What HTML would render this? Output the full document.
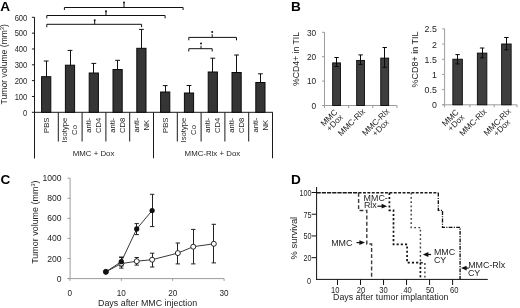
<!DOCTYPE html>
<html><head><meta charset="utf-8"><style>
html,body{margin:0;padding:0;background:#fff;width:520px;height:308px;overflow:hidden}
svg{display:block;will-change:transform;font-family:"Liberation Sans",sans-serif}
</style></head><body>
<svg width="520" height="308" viewBox="0 0 520 308">
<rect width="520" height="308" fill="#fff"/>
<text x="0.20" y="10.50" font-size="13.6" text-anchor="start" fill="#000" font-weight="bold" >A</text>
<line x1="34.50" y1="17.32" x2="34.50" y2="158.30" stroke="#1a1a1a" stroke-width="1" />
<line x1="31.90" y1="112.30" x2="34.50" y2="112.30" stroke="#1a1a1a" stroke-width="1" />
<text transform="translate(27.30,115.50) scale(1.0,1.14)" font-size="7.6" text-anchor="end" fill="#1e1e1e" font-weight="normal">0</text>
<line x1="31.90" y1="96.47" x2="34.50" y2="96.47" stroke="#1a1a1a" stroke-width="1" />
<text transform="translate(27.30,99.67) scale(1.0,1.14)" font-size="7.6" text-anchor="end" fill="#1e1e1e" font-weight="normal">100</text>
<line x1="31.90" y1="80.64" x2="34.50" y2="80.64" stroke="#1a1a1a" stroke-width="1" />
<text transform="translate(27.30,83.84) scale(1.0,1.14)" font-size="7.6" text-anchor="end" fill="#1e1e1e" font-weight="normal">200</text>
<line x1="31.90" y1="64.81" x2="34.50" y2="64.81" stroke="#1a1a1a" stroke-width="1" />
<text transform="translate(27.30,68.01) scale(1.0,1.14)" font-size="7.6" text-anchor="end" fill="#1e1e1e" font-weight="normal">300</text>
<line x1="31.90" y1="48.98" x2="34.50" y2="48.98" stroke="#1a1a1a" stroke-width="1" />
<text transform="translate(27.30,52.18) scale(1.0,1.14)" font-size="7.6" text-anchor="end" fill="#1e1e1e" font-weight="normal">400</text>
<line x1="31.90" y1="33.15" x2="34.50" y2="33.15" stroke="#1a1a1a" stroke-width="1" />
<text transform="translate(27.30,36.35) scale(1.0,1.14)" font-size="7.6" text-anchor="end" fill="#1e1e1e" font-weight="normal">500</text>
<line x1="31.90" y1="17.32" x2="34.50" y2="17.32" stroke="#1a1a1a" stroke-width="1" />
<text transform="translate(27.30,20.52) scale(1.0,1.14)" font-size="7.6" text-anchor="end" fill="#1e1e1e" font-weight="normal">600</text>
<text transform="translate(6.8,64.3) rotate(-90)" font-size="8.65" text-anchor="middle" fill="#1e1e1e">Tumor volume (mm<tspan font-size="5.2" dy="-3">3</tspan><tspan dy="3">)</tspan></text>
<line x1="34.50" y1="112.30" x2="272.80" y2="112.30" stroke="#1a1a1a" stroke-width="1" />
<line x1="34.50" y1="112.30" x2="34.50" y2="158.30" stroke="#1a1a1a" stroke-width="1" />
<line x1="58.30" y1="112.30" x2="58.30" y2="141.50" stroke="#1a1a1a" stroke-width="1" />
<line x1="82.10" y1="112.30" x2="82.10" y2="141.50" stroke="#1a1a1a" stroke-width="1" />
<line x1="105.90" y1="112.30" x2="105.90" y2="141.50" stroke="#1a1a1a" stroke-width="1" />
<line x1="129.70" y1="112.30" x2="129.70" y2="141.50" stroke="#1a1a1a" stroke-width="1" />
<line x1="153.50" y1="112.30" x2="153.50" y2="158.30" stroke="#1a1a1a" stroke-width="1" />
<line x1="177.30" y1="112.30" x2="177.30" y2="141.50" stroke="#1a1a1a" stroke-width="1" />
<line x1="201.10" y1="112.30" x2="201.10" y2="141.50" stroke="#1a1a1a" stroke-width="1" />
<line x1="224.90" y1="112.30" x2="224.90" y2="141.50" stroke="#1a1a1a" stroke-width="1" />
<line x1="248.70" y1="112.30" x2="248.70" y2="141.50" stroke="#1a1a1a" stroke-width="1" />
<line x1="272.50" y1="112.30" x2="272.50" y2="158.30" stroke="#1a1a1a" stroke-width="1" />
<line x1="46.50" y1="61.00" x2="46.50" y2="77.70" stroke="#111" stroke-width="1" />
<line x1="43.80" y1="61.00" x2="48.60" y2="61.00" stroke="#111" stroke-width="1" />
<rect x="41.60" y="76.70" width="9.20" height="35.60" fill="#353535" stroke="#0a0a0a" stroke-width="1.0"/>
<line x1="70.50" y1="50.40" x2="70.50" y2="66.20" stroke="#111" stroke-width="1" />
<line x1="67.60" y1="50.40" x2="72.40" y2="50.40" stroke="#111" stroke-width="1" />
<rect x="65.40" y="65.20" width="9.20" height="47.10" fill="#353535" stroke="#0a0a0a" stroke-width="1.0"/>
<line x1="93.50" y1="63.40" x2="93.50" y2="74.00" stroke="#111" stroke-width="1" />
<line x1="91.40" y1="63.40" x2="96.20" y2="63.40" stroke="#111" stroke-width="1" />
<rect x="89.20" y="73.00" width="9.20" height="39.30" fill="#353535" stroke="#0a0a0a" stroke-width="1.0"/>
<line x1="117.50" y1="60.30" x2="117.50" y2="70.50" stroke="#111" stroke-width="1" />
<line x1="115.20" y1="60.30" x2="120.00" y2="60.30" stroke="#111" stroke-width="1" />
<rect x="113.00" y="69.50" width="9.20" height="42.80" fill="#353535" stroke="#0a0a0a" stroke-width="1.0"/>
<line x1="141.50" y1="29.40" x2="141.50" y2="49.30" stroke="#111" stroke-width="1" />
<line x1="139.00" y1="29.40" x2="143.80" y2="29.40" stroke="#111" stroke-width="1" />
<rect x="136.80" y="48.30" width="9.20" height="64.00" fill="#353535" stroke="#0a0a0a" stroke-width="1.0"/>
<line x1="165.50" y1="85.60" x2="165.50" y2="93.00" stroke="#111" stroke-width="1" />
<line x1="162.80" y1="85.60" x2="167.60" y2="85.60" stroke="#111" stroke-width="1" />
<rect x="160.60" y="92.00" width="9.20" height="20.30" fill="#353535" stroke="#0a0a0a" stroke-width="1.0"/>
<line x1="189.50" y1="85.50" x2="189.50" y2="94.00" stroke="#111" stroke-width="1" />
<line x1="186.60" y1="85.50" x2="191.40" y2="85.50" stroke="#111" stroke-width="1" />
<rect x="184.40" y="93.00" width="9.20" height="19.30" fill="#353535" stroke="#0a0a0a" stroke-width="1.0"/>
<line x1="212.50" y1="58.20" x2="212.50" y2="73.00" stroke="#111" stroke-width="1" />
<line x1="210.40" y1="58.20" x2="215.20" y2="58.20" stroke="#111" stroke-width="1" />
<rect x="208.20" y="72.00" width="9.20" height="40.30" fill="#353535" stroke="#0a0a0a" stroke-width="1.0"/>
<line x1="236.50" y1="55.00" x2="236.50" y2="73.50" stroke="#111" stroke-width="1" />
<line x1="234.20" y1="55.00" x2="239.00" y2="55.00" stroke="#111" stroke-width="1" />
<rect x="232.00" y="72.50" width="9.20" height="39.80" fill="#353535" stroke="#0a0a0a" stroke-width="1.0"/>
<line x1="260.50" y1="73.80" x2="260.50" y2="83.50" stroke="#111" stroke-width="1" />
<line x1="258.00" y1="73.80" x2="262.80" y2="73.80" stroke="#111" stroke-width="1" />
<rect x="255.80" y="82.50" width="9.20" height="29.80" fill="#353535" stroke="#0a0a0a" stroke-width="1.0"/>
<polyline points="64.40,10.00 64.40,7.50 183.10,7.50 183.10,10.00" fill="none" stroke="#111" stroke-width="1" stroke-linecap="butt" />
<polyline points="46.80,18.30 46.80,15.50 165.10,15.50 165.10,18.30" fill="none" stroke="#111" stroke-width="1" stroke-linecap="butt" />
<polyline points="46.80,27.20 46.80,24.30 141.60,24.30 141.60,27.20" fill="none" stroke="#111" stroke-width="1" stroke-linecap="butt" />
<polyline points="188.80,40.30 188.80,37.40 236.50,37.40 236.50,40.30" fill="none" stroke="#111" stroke-width="1" stroke-linecap="butt" />
<polyline points="188.80,51.50 188.80,48.70 212.20,48.70 212.20,51.50" fill="none" stroke="#111" stroke-width="1" stroke-linecap="butt" />
<circle cx="124.00" cy="2.50" r="1.0" fill="#111"/>
<line x1="124.00" y1="3.00" x2="124.00" y2="7.50" stroke="#111" stroke-width="1.0" />
<circle cx="106.00" cy="11.30" r="1.0" fill="#111"/>
<line x1="106.00" y1="11.80" x2="106.00" y2="15.50" stroke="#111" stroke-width="1.0" />
<circle cx="94.70" cy="20.20" r="1.0" fill="#111"/>
<line x1="94.70" y1="20.70" x2="94.70" y2="24.30" stroke="#111" stroke-width="1.0" />
<circle cx="212.20" cy="32.00" r="1.0" fill="#111"/>
<line x1="212.20" y1="34.20" x2="212.20" y2="37.40" stroke="#111" stroke-width="1.0" />
<circle cx="201.00" cy="43.60" r="1.0" fill="#111"/>
<line x1="201.00" y1="45.80" x2="201.00" y2="48.70" stroke="#111" stroke-width="1.0" />
<text transform="translate(49.10,125.30) rotate(-90)" font-size="7.7" text-anchor="middle" fill="#1e1e1e">PBS</text>
<text transform="translate(67.10,130.01) rotate(-90)" font-size="7.7" text-anchor="middle" fill="#1e1e1e">Isotype</text>
<text transform="translate(77.30,130.01) rotate(-90)" font-size="7.7" text-anchor="middle" fill="#1e1e1e">Co</text>
<text transform="translate(90.90,125.30) rotate(-90)" font-size="7.7" text-anchor="middle" fill="#1e1e1e">anti-</text>
<text transform="translate(101.10,125.30) rotate(-90)" font-size="7.7" text-anchor="middle" fill="#1e1e1e">CD4</text>
<text transform="translate(114.70,125.30) rotate(-90)" font-size="7.7" text-anchor="middle" fill="#1e1e1e">anti-</text>
<text transform="translate(124.90,125.30) rotate(-90)" font-size="7.7" text-anchor="middle" fill="#1e1e1e">CD8</text>
<text transform="translate(138.50,125.09) rotate(-90)" font-size="7.7" text-anchor="middle" fill="#1e1e1e">anti-</text>
<text transform="translate(148.70,125.09) rotate(-90)" font-size="7.7" text-anchor="middle" fill="#1e1e1e">NK</text>
<text transform="translate(168.10,125.30) rotate(-90)" font-size="7.7" text-anchor="middle" fill="#1e1e1e">PBS</text>
<text transform="translate(186.10,130.01) rotate(-90)" font-size="7.7" text-anchor="middle" fill="#1e1e1e">Isotype</text>
<text transform="translate(196.30,130.01) rotate(-90)" font-size="7.7" text-anchor="middle" fill="#1e1e1e">Co</text>
<text transform="translate(209.90,125.30) rotate(-90)" font-size="7.7" text-anchor="middle" fill="#1e1e1e">anti-</text>
<text transform="translate(220.10,125.30) rotate(-90)" font-size="7.7" text-anchor="middle" fill="#1e1e1e">CD4</text>
<text transform="translate(233.70,125.30) rotate(-90)" font-size="7.7" text-anchor="middle" fill="#1e1e1e">anti-</text>
<text transform="translate(243.90,125.30) rotate(-90)" font-size="7.7" text-anchor="middle" fill="#1e1e1e">CD8</text>
<text transform="translate(257.50,125.09) rotate(-90)" font-size="7.7" text-anchor="middle" fill="#1e1e1e">anti-</text>
<text transform="translate(267.70,125.09) rotate(-90)" font-size="7.7" text-anchor="middle" fill="#1e1e1e">NK</text>
<text x="93.60" y="155.90" font-size="7.85" text-anchor="middle" fill="#1e1e1e" font-weight="normal" >MMC + Dox</text>
<text x="212.40" y="155.90" font-size="7.85" text-anchor="middle" fill="#1e1e1e" font-weight="normal" >MMC-Rlx + Dox</text>
<text x="290.90" y="10.60" font-size="13.6" text-anchor="start" fill="#000" font-weight="bold" >B</text>
<line x1="324.50" y1="32.30" x2="324.50" y2="105.50" stroke="#9c9c9c" stroke-width="1" />
<line x1="322.00" y1="105.50" x2="324.50" y2="105.50" stroke="#9c9c9c" stroke-width="1" />
<text transform="translate(316.20,108.70) scale(1.0,1.19)" font-size="8.3" text-anchor="end" fill="#1e1e1e" font-weight="normal">0</text>
<line x1="322.00" y1="81.10" x2="324.50" y2="81.10" stroke="#9c9c9c" stroke-width="1" />
<text transform="translate(316.20,84.30) scale(1.0,1.19)" font-size="8.3" text-anchor="end" fill="#1e1e1e" font-weight="normal">10</text>
<line x1="322.00" y1="56.70" x2="324.50" y2="56.70" stroke="#9c9c9c" stroke-width="1" />
<text transform="translate(316.20,59.90) scale(1.0,1.19)" font-size="8.3" text-anchor="end" fill="#1e1e1e" font-weight="normal">20</text>
<line x1="322.00" y1="32.30" x2="324.50" y2="32.30" stroke="#9c9c9c" stroke-width="1" />
<text transform="translate(316.20,35.50) scale(1.0,1.19)" font-size="8.3" text-anchor="end" fill="#1e1e1e" font-weight="normal">30</text>
<line x1="322.00" y1="105.50" x2="397.00" y2="105.50" stroke="#9c9c9c" stroke-width="1" />
<line x1="324.50" y1="105.50" x2="324.50" y2="108.10" stroke="#9c9c9c" stroke-width="1" />
<line x1="348.60" y1="105.50" x2="348.60" y2="108.10" stroke="#9c9c9c" stroke-width="1" />
<line x1="372.80" y1="105.50" x2="372.80" y2="108.10" stroke="#9c9c9c" stroke-width="1" />
<line x1="397.00" y1="105.50" x2="397.00" y2="108.10" stroke="#9c9c9c" stroke-width="1" />
<rect x="332.65" y="62.90" width="7.90" height="42.60" fill="#3e3e3e" stroke="#0a0a0a" stroke-width="0.9"/>
<line x1="336.50" y1="57.50" x2="336.50" y2="66.50" stroke="#0a0a0a" stroke-width="1" />
<line x1="334.40" y1="57.50" x2="338.80" y2="57.50" stroke="#0a0a0a" stroke-width="1" />
<line x1="334.40" y1="66.50" x2="338.80" y2="66.50" stroke="#0a0a0a" stroke-width="1" />
<rect x="356.65" y="60.40" width="7.90" height="45.10" fill="#3e3e3e" stroke="#0a0a0a" stroke-width="0.9"/>
<line x1="360.50" y1="54.90" x2="360.50" y2="64.40" stroke="#0a0a0a" stroke-width="1" />
<line x1="358.40" y1="54.90" x2="362.80" y2="54.90" stroke="#0a0a0a" stroke-width="1" />
<line x1="358.40" y1="64.40" x2="362.80" y2="64.40" stroke="#0a0a0a" stroke-width="1" />
<rect x="380.75" y="58.10" width="7.90" height="47.40" fill="#3e3e3e" stroke="#0a0a0a" stroke-width="0.9"/>
<line x1="384.50" y1="47.50" x2="384.50" y2="67.30" stroke="#0a0a0a" stroke-width="1" />
<line x1="382.50" y1="47.50" x2="386.90" y2="47.50" stroke="#0a0a0a" stroke-width="1" />
<line x1="382.50" y1="67.30" x2="386.90" y2="67.30" stroke="#0a0a0a" stroke-width="1" />
<text transform="translate(298.70,59.00) rotate(-90)" font-size="8.7" text-anchor="middle" fill="#1e1e1e">%CD4+ in TIL</text>
<line x1="444.60" y1="28.90" x2="444.60" y2="104.80" stroke="#9c9c9c" stroke-width="1" />
<line x1="442.10" y1="104.80" x2="444.60" y2="104.80" stroke="#9c9c9c" stroke-width="1" />
<text transform="translate(436.80,108.30) scale(1.0,1.12)" font-size="8.8" text-anchor="end" fill="#1e1e1e" font-weight="normal">0</text>
<line x1="442.10" y1="89.62" x2="444.60" y2="89.62" stroke="#9c9c9c" stroke-width="1" />
<text transform="translate(436.80,93.12) scale(1.0,1.12)" font-size="8.8" text-anchor="end" fill="#1e1e1e" font-weight="normal">0.5</text>
<line x1="442.10" y1="74.44" x2="444.60" y2="74.44" stroke="#9c9c9c" stroke-width="1" />
<text transform="translate(436.80,77.94) scale(1.0,1.12)" font-size="8.8" text-anchor="end" fill="#1e1e1e" font-weight="normal">1</text>
<line x1="442.10" y1="59.26" x2="444.60" y2="59.26" stroke="#9c9c9c" stroke-width="1" />
<text transform="translate(436.80,62.76) scale(1.0,1.12)" font-size="8.8" text-anchor="end" fill="#1e1e1e" font-weight="normal">1.5</text>
<line x1="442.10" y1="44.08" x2="444.60" y2="44.08" stroke="#9c9c9c" stroke-width="1" />
<text transform="translate(436.80,47.58) scale(1.0,1.12)" font-size="8.8" text-anchor="end" fill="#1e1e1e" font-weight="normal">2</text>
<line x1="442.10" y1="28.90" x2="444.60" y2="28.90" stroke="#9c9c9c" stroke-width="1" />
<text transform="translate(436.80,32.40) scale(1.0,1.12)" font-size="8.8" text-anchor="end" fill="#1e1e1e" font-weight="normal">2.5</text>
<line x1="442.10" y1="104.80" x2="517.00" y2="104.80" stroke="#9c9c9c" stroke-width="1" />
<line x1="444.60" y1="104.80" x2="444.60" y2="107.40" stroke="#9c9c9c" stroke-width="1" />
<line x1="469.90" y1="104.80" x2="469.90" y2="107.40" stroke="#9c9c9c" stroke-width="1" />
<line x1="494.20" y1="104.80" x2="494.20" y2="107.40" stroke="#9c9c9c" stroke-width="1" />
<line x1="517.00" y1="104.80" x2="517.00" y2="107.40" stroke="#9c9c9c" stroke-width="1" />
<rect x="452.85" y="59.20" width="9.50" height="45.60" fill="#3e3e3e" stroke="#0a0a0a" stroke-width="0.9"/>
<line x1="457.50" y1="54.60" x2="457.50" y2="63.90" stroke="#0a0a0a" stroke-width="1" />
<line x1="455.40" y1="54.60" x2="459.80" y2="54.60" stroke="#0a0a0a" stroke-width="1" />
<line x1="455.40" y1="63.90" x2="459.80" y2="63.90" stroke="#0a0a0a" stroke-width="1" />
<rect x="477.35" y="53.10" width="9.50" height="51.70" fill="#3e3e3e" stroke="#0a0a0a" stroke-width="0.9"/>
<line x1="482.50" y1="48.00" x2="482.50" y2="57.80" stroke="#0a0a0a" stroke-width="1" />
<line x1="479.90" y1="48.00" x2="484.30" y2="48.00" stroke="#0a0a0a" stroke-width="1" />
<line x1="479.90" y1="57.80" x2="484.30" y2="57.80" stroke="#0a0a0a" stroke-width="1" />
<rect x="501.65" y="44.00" width="9.50" height="60.80" fill="#3e3e3e" stroke="#0a0a0a" stroke-width="0.9"/>
<line x1="506.50" y1="37.50" x2="506.50" y2="49.80" stroke="#0a0a0a" stroke-width="1" />
<line x1="504.20" y1="37.50" x2="508.60" y2="37.50" stroke="#0a0a0a" stroke-width="1" />
<line x1="504.20" y1="49.80" x2="508.60" y2="49.80" stroke="#0a0a0a" stroke-width="1" />
<text transform="translate(418.30,59.50) rotate(-90)" font-size="9.0" text-anchor="middle" fill="#1e1e1e">%CD8+ in TIL</text>
<text transform="translate(330.90,119.85) rotate(-45)" font-size="8.3" text-anchor="middle" fill="#1e1e1e">MMC</text>
<text transform="translate(336.60,124.75) rotate(-45)" font-size="8.3" text-anchor="middle" fill="#1e1e1e">+Dox</text>
<text transform="translate(353.50,124.20) rotate(-45)" font-size="8.3" text-anchor="middle" fill="#1e1e1e">MMC-Rlx</text>
<text transform="translate(377.70,123.95) rotate(-45)" font-size="8.3" text-anchor="middle" fill="#1e1e1e">MMC-Rlx</text>
<text transform="translate(382.40,129.85) rotate(-45)" font-size="8.3" text-anchor="middle" fill="#1e1e1e">+Dox</text>
<text transform="translate(452.30,119.85) rotate(-45)" font-size="8.3" text-anchor="middle" fill="#1e1e1e">MMC</text>
<text transform="translate(458.00,124.75) rotate(-45)" font-size="8.3" text-anchor="middle" fill="#1e1e1e">+Dox</text>
<text transform="translate(474.90,124.20) rotate(-45)" font-size="8.3" text-anchor="middle" fill="#1e1e1e">MMC-Rlx</text>
<text transform="translate(499.10,123.95) rotate(-45)" font-size="8.3" text-anchor="middle" fill="#1e1e1e">MMC-Rlx</text>
<text transform="translate(503.80,129.85) rotate(-45)" font-size="8.3" text-anchor="middle" fill="#1e1e1e">+Dox</text>
<text x="0.50" y="183.90" font-size="13.6" text-anchor="start" fill="#000" font-weight="bold" >C</text>
<line x1="70.10" y1="178.20" x2="70.10" y2="278.60" stroke="#9c9c9c" stroke-width="1" />
<line x1="67.50" y1="278.60" x2="70.10" y2="278.60" stroke="#9c9c9c" stroke-width="1" />
<text transform="translate(61.50,281.60) scale(1.0,1.03)" font-size="8.6" text-anchor="end" fill="#1e1e1e" font-weight="normal">0</text>
<line x1="67.50" y1="258.52" x2="70.10" y2="258.52" stroke="#9c9c9c" stroke-width="1" />
<text transform="translate(61.50,261.52) scale(1.0,1.03)" font-size="8.6" text-anchor="end" fill="#1e1e1e" font-weight="normal">200</text>
<line x1="67.50" y1="238.44" x2="70.10" y2="238.44" stroke="#9c9c9c" stroke-width="1" />
<text transform="translate(61.50,241.44) scale(1.0,1.03)" font-size="8.6" text-anchor="end" fill="#1e1e1e" font-weight="normal">400</text>
<line x1="67.50" y1="218.36" x2="70.10" y2="218.36" stroke="#9c9c9c" stroke-width="1" />
<text transform="translate(61.50,221.36) scale(1.0,1.03)" font-size="8.6" text-anchor="end" fill="#1e1e1e" font-weight="normal">600</text>
<line x1="67.50" y1="198.28" x2="70.10" y2="198.28" stroke="#9c9c9c" stroke-width="1" />
<text transform="translate(61.50,201.28) scale(1.0,1.03)" font-size="8.6" text-anchor="end" fill="#1e1e1e" font-weight="normal">800</text>
<line x1="67.50" y1="178.20" x2="70.10" y2="178.20" stroke="#9c9c9c" stroke-width="1" />
<text transform="translate(61.50,181.20) scale(1.0,1.03)" font-size="8.6" text-anchor="end" fill="#1e1e1e" font-weight="normal">1000</text>
<line x1="67.50" y1="278.60" x2="224.10" y2="278.60" stroke="#9c9c9c" stroke-width="1" />
<line x1="69.90" y1="278.60" x2="69.90" y2="280.90" stroke="#9c9c9c" stroke-width="1" />
<text transform="translate(69.90,296.00) scale(1.0,1.2)" font-size="8.2" text-anchor="middle" fill="#1e1e1e" font-weight="normal">0</text>
<line x1="121.30" y1="278.60" x2="121.30" y2="280.90" stroke="#9c9c9c" stroke-width="1" />
<text transform="translate(121.30,296.00) scale(1.0,1.2)" font-size="8.2" text-anchor="middle" fill="#1e1e1e" font-weight="normal">10</text>
<line x1="172.70" y1="278.60" x2="172.70" y2="280.90" stroke="#9c9c9c" stroke-width="1" />
<text transform="translate(172.70,296.00) scale(1.0,1.2)" font-size="8.2" text-anchor="middle" fill="#1e1e1e" font-weight="normal">20</text>
<line x1="224.10" y1="278.60" x2="224.10" y2="280.90" stroke="#9c9c9c" stroke-width="1" />
<text transform="translate(224.10,296.00) scale(1.0,1.2)" font-size="8.2" text-anchor="middle" fill="#1e1e1e" font-weight="normal">30</text>
<text x="147.60" y="305.60" font-size="8.9" text-anchor="middle" fill="#1e1e1e" font-weight="normal" >Days after MMC injection</text>
<text transform="translate(37.7,222.2) rotate(-90)" font-size="8.95" text-anchor="middle" fill="#1e1e1e">Tumor volume (mm<tspan font-size="5.4" dy="-3.2">3</tspan><tspan dy="3.2">)</tspan></text>
<polyline points="105.88,271.80 121.30,263.60 136.72,261.20 152.14,259.70 177.84,253.10 193.26,246.70 213.82,243.80" fill="none" stroke="#222" stroke-width="0.9" stroke-linecap="butt" />
<polyline points="105.88,271.80 121.30,261.70 136.72,228.90 152.14,210.50" fill="none" stroke="#222" stroke-width="0.9" stroke-linecap="butt" />
<line x1="121.50" y1="257.50" x2="121.50" y2="268.10" stroke="#222" stroke-width="1" />
<line x1="119.10" y1="257.50" x2="123.50" y2="257.50" stroke="#222" stroke-width="1" />
<line x1="119.10" y1="268.10" x2="123.50" y2="268.10" stroke="#222" stroke-width="1" />
<line x1="136.50" y1="257.50" x2="136.50" y2="265.10" stroke="#222" stroke-width="1" />
<line x1="134.52" y1="257.50" x2="138.92" y2="257.50" stroke="#222" stroke-width="1" />
<line x1="134.52" y1="265.10" x2="138.92" y2="265.10" stroke="#222" stroke-width="1" />
<line x1="152.50" y1="253.20" x2="152.50" y2="267.00" stroke="#222" stroke-width="1" />
<line x1="149.94" y1="253.20" x2="154.34" y2="253.20" stroke="#222" stroke-width="1" />
<line x1="149.94" y1="267.00" x2="154.34" y2="267.00" stroke="#222" stroke-width="1" />
<line x1="177.50" y1="243.00" x2="177.50" y2="263.90" stroke="#222" stroke-width="1" />
<line x1="175.64" y1="243.00" x2="180.04" y2="243.00" stroke="#222" stroke-width="1" />
<line x1="175.64" y1="263.90" x2="180.04" y2="263.90" stroke="#222" stroke-width="1" />
<line x1="193.50" y1="229.40" x2="193.50" y2="263.90" stroke="#222" stroke-width="1" />
<line x1="191.06" y1="229.40" x2="195.46" y2="229.40" stroke="#222" stroke-width="1" />
<line x1="191.06" y1="263.90" x2="195.46" y2="263.90" stroke="#222" stroke-width="1" />
<line x1="213.50" y1="224.30" x2="213.50" y2="262.90" stroke="#222" stroke-width="1" />
<line x1="211.62" y1="224.30" x2="216.02" y2="224.30" stroke="#222" stroke-width="1" />
<line x1="211.62" y1="262.90" x2="216.02" y2="262.90" stroke="#222" stroke-width="1" />
<line x1="121.50" y1="257.00" x2="121.50" y2="266.00" stroke="#222" stroke-width="1" />
<line x1="119.10" y1="257.00" x2="123.50" y2="257.00" stroke="#222" stroke-width="1" />
<line x1="119.10" y1="266.00" x2="123.50" y2="266.00" stroke="#222" stroke-width="1" />
<line x1="136.50" y1="223.60" x2="136.50" y2="234.60" stroke="#222" stroke-width="1" />
<line x1="134.52" y1="223.60" x2="138.92" y2="223.60" stroke="#222" stroke-width="1" />
<line x1="134.52" y1="234.60" x2="138.92" y2="234.60" stroke="#222" stroke-width="1" />
<line x1="152.50" y1="194.30" x2="152.50" y2="226.60" stroke="#222" stroke-width="1" />
<line x1="149.94" y1="194.30" x2="154.34" y2="194.30" stroke="#222" stroke-width="1" />
<line x1="149.94" y1="226.60" x2="154.34" y2="226.60" stroke="#222" stroke-width="1" />
<circle cx="105.88" cy="271.80" r="2.5" fill="#fff" stroke="#111" stroke-width="0.9"/>
<circle cx="121.30" cy="263.60" r="2.5" fill="#fff" stroke="#111" stroke-width="0.9"/>
<circle cx="136.72" cy="261.20" r="2.5" fill="#fff" stroke="#111" stroke-width="0.9"/>
<circle cx="152.14" cy="259.70" r="2.5" fill="#fff" stroke="#111" stroke-width="0.9"/>
<circle cx="177.84" cy="253.10" r="2.5" fill="#fff" stroke="#111" stroke-width="0.9"/>
<circle cx="193.26" cy="246.70" r="2.5" fill="#fff" stroke="#111" stroke-width="0.9"/>
<circle cx="213.82" cy="243.80" r="2.5" fill="#fff" stroke="#111" stroke-width="0.9"/>
<circle cx="105.88" cy="271.80" r="2.6" fill="#111"/>
<circle cx="121.30" cy="261.70" r="2.6" fill="#111"/>
<circle cx="136.72" cy="228.90" r="2.6" fill="#111"/>
<circle cx="152.14" cy="210.50" r="2.6" fill="#111"/>
<text x="290.90" y="183.70" font-size="13.6" text-anchor="start" fill="#000" font-weight="bold" >D</text>
<polyline points="316.60,192.80 358.60,192.80" fill="none" stroke="#1a1a1a" stroke-width="1.5" stroke-dasharray="4.2 1.0" stroke-linecap="butt" />
<polyline points="358.60,192.80 438.30,192.80" fill="none" stroke="#1a1a1a" stroke-width="1.4" stroke-dasharray="2.9 1.5" stroke-linecap="butt" />
<polyline points="411.20,192.80 411.20,227.60 420.40,227.60 420.40,262.70 424.90,262.70 424.90,279.40" fill="none" stroke="#404040" stroke-width="1.45" stroke-dasharray="1.8 2.4" stroke-linecap="butt" />
<polyline points="358.60,192.80 358.60,210.50 366.80,210.50 366.80,244.00 371.60,244.00 371.60,279.40" fill="none" stroke="#3a3a3a" stroke-width="1.4" stroke-dasharray="3.9 2.3" stroke-linecap="butt" />
<polyline points="389.40,192.80 389.40,210.30 393.50,210.30 393.50,244.40 407.10,244.40 407.10,262.70 420.40,262.70 420.40,279.40" fill="none" stroke="#111" stroke-width="1.7" stroke-dasharray="2.1 2.1" stroke-linecap="butt" />
<polyline points="438.30,192.80 438.30,210.30 442.50,210.30 442.50,227.40 460.10,227.40 460.10,279.40" fill="none" stroke="#111" stroke-width="1.35" stroke-dasharray="3.8 1.3 1.1 1.3" stroke-linecap="butt" />
<line x1="316.60" y1="187.00" x2="316.60" y2="279.90" stroke="#111" stroke-width="1" />
<line x1="316.10" y1="279.40" x2="487.80" y2="279.40" stroke="#111" stroke-width="1" />
<line x1="311.70" y1="192.50" x2="316.60" y2="192.50" stroke="#111" stroke-width="1" />
<text transform="translate(311.40,195.90) scale(1.0,1.2)" font-size="7.2" text-anchor="end" fill="#1e1e1e" font-weight="normal">100</text>
<line x1="311.70" y1="214.22" x2="316.60" y2="214.22" stroke="#111" stroke-width="1" />
<text transform="translate(311.40,217.62) scale(1.0,1.2)" font-size="7.2" text-anchor="end" fill="#1e1e1e" font-weight="normal">75</text>
<line x1="311.70" y1="235.95" x2="316.60" y2="235.95" stroke="#111" stroke-width="1" />
<text transform="translate(311.40,239.35) scale(1.0,1.2)" font-size="7.2" text-anchor="end" fill="#1e1e1e" font-weight="normal">50</text>
<line x1="311.70" y1="257.67" x2="316.60" y2="257.67" stroke="#111" stroke-width="1" />
<text transform="translate(311.40,261.07) scale(1.0,1.2)" font-size="7.2" text-anchor="end" fill="#1e1e1e" font-weight="normal">20</text>
<text transform="translate(310.90,284.40) scale(1.0,1.2)" font-size="7.2" text-anchor="end" fill="#1e1e1e" font-weight="normal">0</text>
<line x1="337.50" y1="279.40" x2="337.50" y2="285.00" stroke="#111" stroke-width="1" />
<text transform="translate(335.30,292.60) scale(1.0,1.15)" font-size="7.6" text-anchor="middle" fill="#1e1e1e" font-weight="normal">10</text>
<line x1="360.52" y1="279.40" x2="360.52" y2="285.00" stroke="#111" stroke-width="1" />
<text transform="translate(361.00,292.60) scale(1.0,1.15)" font-size="7.6" text-anchor="middle" fill="#1e1e1e" font-weight="normal">20</text>
<line x1="383.54" y1="279.40" x2="383.54" y2="285.00" stroke="#111" stroke-width="1" />
<text transform="translate(383.50,292.60) scale(1.0,1.15)" font-size="7.6" text-anchor="middle" fill="#1e1e1e" font-weight="normal">30</text>
<line x1="406.56" y1="279.40" x2="406.56" y2="285.00" stroke="#111" stroke-width="1" />
<text transform="translate(407.60,292.60) scale(1.0,1.15)" font-size="7.6" text-anchor="middle" fill="#1e1e1e" font-weight="normal">40</text>
<line x1="429.58" y1="279.40" x2="429.58" y2="285.00" stroke="#111" stroke-width="1" />
<text transform="translate(430.10,292.60) scale(1.0,1.15)" font-size="7.6" text-anchor="middle" fill="#1e1e1e" font-weight="normal">50</text>
<line x1="452.60" y1="279.40" x2="452.60" y2="285.00" stroke="#111" stroke-width="1" />
<text transform="translate(454.20,292.60) scale(1.0,1.15)" font-size="7.6" text-anchor="middle" fill="#1e1e1e" font-weight="normal">60</text>
<text x="333.00" y="300.20" font-size="8.85" text-anchor="start" fill="#1e1e1e" font-weight="normal" >Days after tumor implantation</text>
<text transform="translate(297.0,238.1) rotate(-90)" font-size="9.35" text-anchor="middle" fill="#1e1e1e">% survival</text>
<text x="331.20" y="245.90" font-size="8.9" text-anchor="start" fill="#1e1e1e" font-weight="normal" >MMC</text>
<line x1="356.50" y1="242.60" x2="362.20" y2="242.60" stroke="#111" stroke-width="1.2" />
<polygon points="365.00,242.60 359.40,240.20 359.40,245.00" fill="#111"/>
<text x="363.60" y="200.60" font-size="8.9" text-anchor="start" fill="#1e1e1e" font-weight="normal" >MMC-</text>
<text x="363.90" y="207.90" font-size="8.9" text-anchor="start" fill="#1e1e1e" font-weight="normal" >Rlx</text>
<line x1="377.40" y1="206.20" x2="384.40" y2="206.20" stroke="#111" stroke-width="1.2" />
<polygon points="387.20,206.20 381.60,203.80 381.60,208.60" fill="#111"/>
<text x="433.90" y="255.30" font-size="8.9" text-anchor="start" fill="#1e1e1e" font-weight="normal" >MMC</text>
<text x="433.90" y="262.90" font-size="8.9" text-anchor="start" fill="#1e1e1e" font-weight="normal" >CY</text>
<line x1="431.10" y1="254.50" x2="425.60" y2="254.50" stroke="#111" stroke-width="1.2" />
<polygon points="422.80,254.50 428.40,252.10 428.40,256.90" fill="#111"/>
<text x="468.20" y="268.10" font-size="8.9" text-anchor="start" fill="#1e1e1e" font-weight="normal" >MMC-Rlx</text>
<text x="467.90" y="275.60" font-size="8.9" text-anchor="start" fill="#1e1e1e" font-weight="normal" >CY</text>
<line x1="468.80" y1="268.10" x2="463.80" y2="268.10" stroke="#111" stroke-width="1.2" />
<polygon points="461.00,268.10 466.60,265.70 466.60,270.50" fill="#111"/>
</svg>
</body></html>
